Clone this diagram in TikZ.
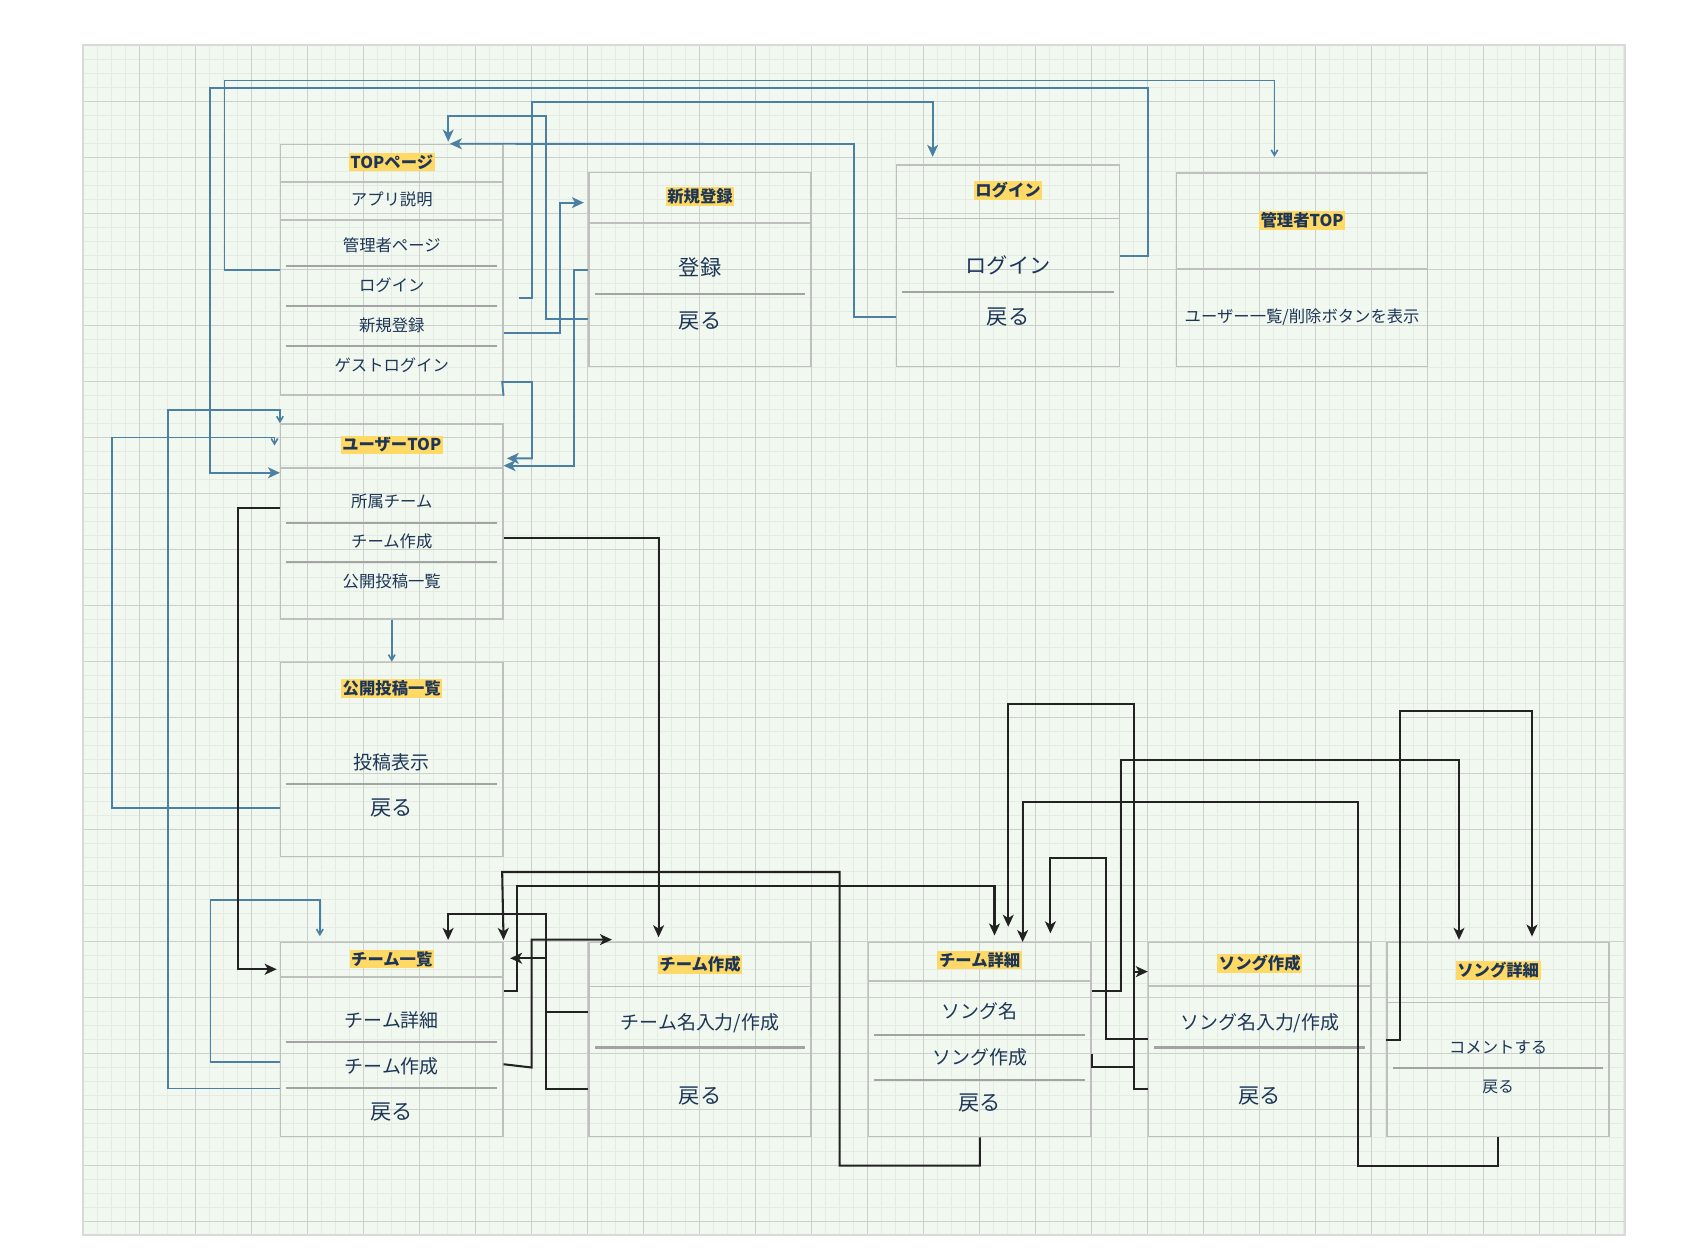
\documentclass[tikz,border=0pt]{standalone}
\usepackage{fontspec}
\setmainfont{Noto Sans CJK JP}
\usetikzlibrary{arrows.meta}

\definecolor{ink}{HTML}{1D3557}
\definecolor{hl}{HTML}{FFD966}
\definecolor{lnblue}{HTML}{4B7FA3}
\definecolor{lnblack}{HTML}{222222}
\definecolor{boxgray}{HTML}{BFBFBF}
\definecolor{sepgray}{HTML}{A3A3A3}
\definecolor{gridbg}{HTML}{F1F8EF}
\definecolor{gridmin}{HTML}{E3EBE2}
\definecolor{gridmaj}{HTML}{CBD0CB}

\begin{document}
\begin{tikzpicture}[x=1pt, y=-1pt,
    scr/.style={draw=boxgray, line width=1.3pt, inner sep=0pt, anchor=north west,
        minimum width=204pt, minimum height=178.4pt},
    ttl/.style={fill=hl, text=ink, inner sep=1.5pt, font=\bfseries\fontsize{15}{15}\selectfont},
    sm/.style={text=ink, inner sep=0pt, font=\fontsize{15}{15}\selectfont},
    md/.style={text=ink, inner sep=0pt, font=\fontsize{17.4}{18}\selectfont},
    lg/.style={text=ink, inner sep=0pt, font=\fontsize{19.5}{20}\selectfont},
    sep/.style={draw=boxgray, line width=1.3pt},
    isep/.style={draw=sepgray, line width=2pt, shorten <=6pt, shorten >=6pt},
    bl/.style={draw=lnblue, line width=1.7pt, -{Stealth[length=11pt,width=10pt,inset=3pt]}},
    blt/.style={draw=lnblue, line width=1.5pt, -{Straight Barb[length=5pt,width=6pt]}},
    bk/.style={draw=lnblack, line width=1.9pt, -{Stealth[length=11pt,width=10pt,inset=3pt]}}
]
    \useasboundingbox (0,0) rectangle (1568,1146);

    % 方眼 (画素に合わせる)
    \begin{scope}[x=0.918033pt, y=-0.918033pt, line width=0.918033pt]
        \fill[gridbg] (83,45) rectangle (1625,1235);
        \foreach \i in {0,...,110}
            \draw[gridmin] (83.5+14*\i,45) -- (83.5+14*\i,1235);
        \foreach \i in {0,...,84}
            \draw[gridmin] (83,45.5+14*\i) -- (1625,45.5+14*\i);
        \foreach \i in {0,...,27}
            \draw[gridmaj] (83.5+56*\i,45) -- (83.5+56*\i,1235);
        \foreach \i in {0,...,21}
            \draw[gridmaj] (83,45.5+56*\i) -- (1625,45.5+56*\i);
        \draw[black!15, line width=1.5pt] (83,45) rectangle (1625,1235);
    \end{scope}

    % 画面
    \node[scr, minimum height=230pt] (top) at (257,132) {};
    \node[scr] (reg) at (540,157.6) {};
    \node[scr, minimum width=204.5pt, minimum height=185pt] (login) at (822.5,151) {};
    \node[scr, minimum width=230.5pt, minimum height=178pt] (admin) at (1079.5,158) {};
    \node[scr, minimum height=179pt] (user) at (257,388.6) {};
    \node[scr] (posts) at (257,607.4) {};
    \node[scr] (teams) at (257,864.4) {};
    \node[scr] (newteam) at (540,864.4) {};
    \node[scr, minimum width=204.5pt, minimum height=178pt] (team) at (796.5,864.8) {};
    \node[scr, minimum width=204.3pt, minimum height=178pt] (newsong) at (1053.7,864.8) {};
    \node[scr, minimum width=203.8pt, minimum height=178pt] (song) at (1272.8,864.8) {};

    % 区切り線
    \foreach \b/\y in {top/167, top/202, reg/204.7, login/200.4, admin/247, user/429.6,
        posts/658.5, teams/897, newteam/905.8, team/900.6, newsong/905.2, song/920.4}
        \draw[sep] (\b.west |- 0,\y) -- (\b.east |- 0,\y);
    \foreach \b/\y in {top/244.5, top/281, top/317.6, reg/270, login/267.8, user/479.8,
        user/516.2, posts/720, teams/956.8, teams/998.5, newteam/961.7, team/950.4,
        team/991.1, newsong/961.7, song/980.7}
        \draw[isep] (\b.west |- 0,\y) -- (\b.east |- 0,\y);

    % 見出し
    \node[ttl] (topT) at (top.north |- 0,149) {TOPページ};
    \node[ttl] (regT) at (reg.north |- 0,180.5) {新規登録};
    \node[ttl] (loginT) at (login.north |- 0,175) {ログイン};
    \node[ttl] (adminT) at (admin.north |- 0,202) {管理者TOP};
    \node[ttl] (userT) at (user.north |- 0,408.5) {ユーザーTOP};
    \node[ttl] (postsT) at (posts.north |- 0,632) {公開投稿一覧};
    \node[ttl] (teamsT) at (teams.north |- 0,880.4) {チーム一覧};
    \node[ttl] (newteamT) at (newteam.north |- 0,885.2) {チーム作成};
    \node[ttl] (teamT) at (team.north |- 0,881.3) {チーム詳細};
    \node[ttl] (newsongT) at (newsong.north |- 0,884.3) {ソング作成};
    \node[ttl] (songT) at (song.north |- 0,891) {ソング詳細};

    % 項目
    \foreach \n/\y/\t in {A/183/アプリ説明, K/225.5/管理者ページ, L/262/ログイン,
        S/299/新規登録, G/335.7/ゲストログイン}
        \node[sm] (top\n) at (top.north |- 0,\y) {\t};
    \node[lg] (regA) at (reg.north |- 0,245.7) {登録};
    \node[lg] (regB) at (reg.north |- 0,294.4) {戻る};
    \node[lg] (loginA) at (login.north |- 0,243.3) {ログイン};
    \node[lg] (loginB) at (login.north |- 0,290.7) {戻る};
    \node[sm] (adminA) at (admin.north |- 0,290.7) {ユーザー一覧/削除ボタンを表示};
    \foreach \n/\y/\t in {A/460.5/所属チーム, B/497.2/チーム作成, C/534/公開投稿一覧}
        \node[sm] (user\n) at (user.north |- 0,\y) {\t};
    \node[md] (postsA) at (posts.north |- 0,700) {投稿表示};
    \node[lg] (postsB) at (posts.north |- 0,742) {戻る};
    \node[md] (teamsA) at (teams.north |- 0,936.4) {チーム詳細};
    \node[md] (teamsB) at (teams.north |- 0,978.6) {チーム作成};
    \node[lg] (teamsC) at (teams.north |- 0,1020.5) {戻る};
    \node[md] (newteamA) at (newteam.north |- 0,939.4) {チーム名入力/作成};
    \node[lg] (newteamB) at (newteam.north |- 0,1006) {戻る};
    \node[md] (teamA) at (team.north |- 0,928.7) {ソング名};
    \node[md] (teamB) at (team.north |- 0,970.6) {ソング作成};
    \node[lg] (teamC) at (team.north |- 0,1012.3) {戻る};
    \node[md] (newsongA) at (newsong.north |- 0,939.4) {ソング名入力/作成};
    \node[lg] (newsongB) at (newsong.north |- 0,1006) {戻る};
    \node[sm] (songA) at (song.north |- 0,961.4) {コメントする};
    \node[sm, font=\fontsize{14.5}{15}\selectfont] (songB) at (song.north |- 0,998) {戻る};

    % 矢印の端
    \coordinate (userIn) at (252,409);
    \coordinate (newteamIn) at (561.8,862.6);

    % 青い矢印
    \draw[blt, shorten >=14pt] (top.west |- 0,248) -| (206,74) -| (admin.north -| 1170,0);
    \draw[bl] (login.east |- 0,235) -| (1054,80.5) -| (193,434) -- (user.west |- 0,434);
    \draw[bl, shorten <=14.5pt, shorten >=7pt] (top.east |- 0,273.6) -| (488.4,93.6) -| (login.north -| 856.2,0);
    \draw[bl, shorten >=2pt] (reg.west |- 0,292.5) -| (501.2,106.5) -| (top.north -| 411.5,0);
    \draw[bl] (login.west |- 0,291) -| (784,132.2) -- (top.north -| 413,0);
    \draw[bl, shorten >=4pt] (top.east |- 0,305.4) -| (514,186) -- (reg.west |- 0,186);
    \draw[bl] (reg.west |- 0,248) -| (527,427.5) -- (user.east |- 0,427.5);
    \draw[bl, shorten >=3pt] (top.south east) -- (461,350.7) -| (488.4,420.8) -- (user.east |- 0,420.8);
    \draw[blt] (teams.west |- 0,999.4) -| (154,376.4) -| (user.north west);
    \draw[blt] (posts.west |- 0,742) -| (103,401.8) -| (userIn);
    \draw[blt, shorten >=5pt] (teams.west |- 0,975.2) -| (193.3,826.2) -| (teams.north -| 293.6,0);
    \draw[blt] (user.south) -- (posts.north);

    % 黒い矢印
    \draw[bk, shorten >=3pt] (user.west |- 0,466) -| (218.5,889.8) -- (teams.west |- 0,889.8);
    \draw[bk, shorten >=4pt] (user.east |- 0,493.6) -| (newteam.north -| 604.6,0);
    \draw[bk, shorten >=1.5pt] (team.south -| 899.5,0) |- (770.8,1070) |- (461,800.5) -- (teams.north east);
    \draw[bk, shorten >=6pt] (teams.east |- 0,909.7) -| (474.9,813) -| (team.north -| 913,0);
    \draw[bk, shorten >=1.5pt] (newteam.west |- 0,999.4) -| (501.5,838.7) -| (teams.north -| 411.4,0);
    \draw[bk, shorten >=6pt] (newteam.west |- 0,928.7) -| (501.5,879.7) -- (teams.east |- 0,879.7);
    \draw[bk] (teams.east |- 0,977) -- (488,980) |- (newteamIn);
    \draw[bk, shorten >=2pt] (team.east |- 0,909.5) -| (1028.8,697.7) -| (song.north -| 1339.4,0);
    \draw[bk, shorten >=14pt] (newsong.west |- 0,999.7) -| (1041.3,646) -| (team.north -| 925.6,0);
    \draw[bk] (team.east |- 0,967.9) -- (team.east |- 0,979.8) -| (1041.3,892) -- (newsong.west |- 0,892);
    \draw[bk, shorten >=8pt] (newsong.west |- 0,954) -| (1015.5,788) -| (team.north -| 964.3,0);
    \draw[bk] (song.south -| 1375.5,0) |- (1247,1070) |- (938.8,736.2) -- (team.north -| 938.8,0);
    \draw[bk, shorten >=5pt] (song.west |- 0,954.7) -| (1285.6,652.7) -| (song.north -| 1406.4,0);
\end{tikzpicture}
\end{document}
